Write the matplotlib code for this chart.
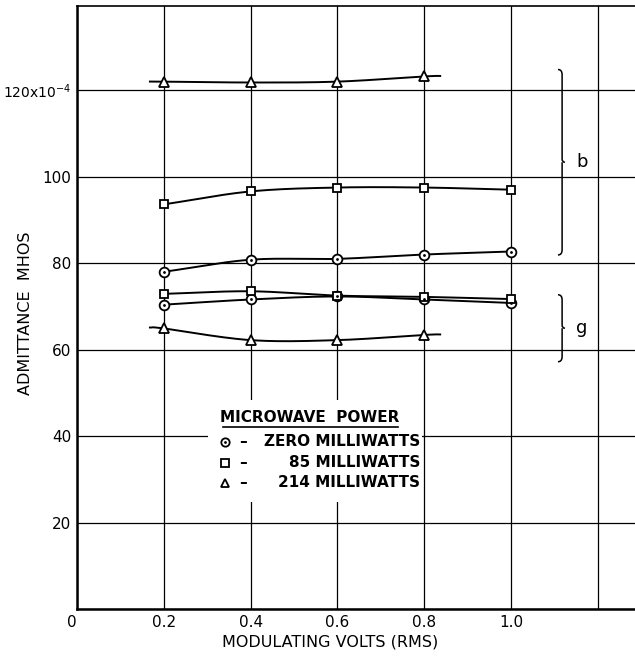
import matplotlib
matplotlib.use('Agg')
import matplotlib.pyplot as plt
import numpy as np
from matplotlib.path import Path
from matplotlib.patches import PathPatch, Rectangle

plt.rcParams['font.family'] = ['DejaVu Sans']

# modulating volts (rms)
volts = [0.2, 0.4, 0.6, 0.8, 1.0]
volts_214 = [0.2, 0.4, 0.6, 0.8]

# susceptance b (x 10^-4 mhos)
b_zero = [78.0, 80.8, 81.0, 82.0, 82.7]
b_85 = [93.6, 96.6, 97.5, 97.5, 97.0]
b_214 = [122.0, 121.8, 122.0, 123.2]

# conductance g (x 10^-4 mhos)
g_zero = [70.4, 71.6, 72.3, 71.6, 70.8]
g_85 = [72.9, 73.5, 72.5, 72.2, 71.7]
g_214 = [64.9, 62.2, 62.2, 63.4]

x_ticks = [0, 0.2, 0.4, 0.6, 0.8, 1.0, 1.2]
x_labels = ['0', '0.2', '0.4', '0.6', '0.8', '1.0', '']
y_ticks = [0, 20, 40, 60, 80, 100, 120]
y_labels = ['', '20', '40', '60', '80', '100', '120x10$^{-4}$']

legend_rows = [('o', 'ZERO MILLIWATTS'), ('s', '85 MILLIWATTS'), ('^', '214 MILLIWATTS')]


def smooth(xs, ys, x_from=None, x_to=None, n=40):
    # catmull-rom through the points, optionally run a little past the ends
    xs = list(xs)
    ys = list(ys)
    if x_from is not None:
        k = (ys[1] - ys[0]) / (xs[1] - xs[0])
        ys.insert(0, ys[0] - k * (xs[0] - x_from) * 0.5)
        xs.insert(0, x_from)
    if x_to is not None:
        k = (ys[-1] - ys[-2]) / (xs[-1] - xs[-2])
        ys.append(ys[-1] + k * (x_to - xs[-1]) * 0.5)
        xs.append(x_to)
    p = np.array([xs, ys]).T
    p = np.vstack([2 * p[0] - p[1], p, 2 * p[-1] - p[-2]])
    out = []
    for i in range(1, len(p) - 2):
        p0, p1, p2, p3 = p[i - 1], p[i], p[i + 1], p[i + 2]
        t = np.linspace(0, 1, n)[:, None]
        seg = 0.5 * (2 * p1 + (-p0 + p2) * t + (2 * p0 - 5 * p1 + 4 * p2 - p3) * t ** 2
                     + (-p0 + 3 * p1 - 3 * p2 + p3) * t ** 3)
        out.append(seg)
    out = np.vstack(out)
    return out[:, 0], out[:, 1]


def brace(ax, x, y_top, y_bot):
    dx = 0.0095
    dy = 1.2
    y_mid = (y_top + y_bot) / 2
    verts = [(x - dx, y_top), (x, y_top), (x, y_top - dy),
             (x, y_mid + dy * 0.6),
             (x, y_mid), (x + dx * 0.7, y_mid),
             (x, y_mid), (x, y_mid - dy * 0.6),
             (x, y_bot + dy), (x, y_bot), (x - dx, y_bot)]
    codes = [Path.MOVETO, Path.CURVE3, Path.CURVE3,
             Path.LINETO,
             Path.CURVE3, Path.CURVE3,
             Path.MOVETO, Path.LINETO,
             Path.LINETO, Path.CURVE3, Path.CURVE3]
    ax.add_patch(PathPatch(Path(verts, codes), fill=False, lw=1.1, color='black', zorder=4))


fig = plt.figure(figsize=(6.35, 6.58), dpi=100)
ax = fig.add_axes([0.1213, 0.0745, 0.8787, 0.9164])
ax.set_xlim(0, 1.286)
ax.set_ylim(0, 139.5)

ax.set_xticks(x_ticks)
ax.set_xticklabels(x_labels)
ax.set_yticks(y_ticks)
ax.set_yticklabels(y_labels)
ax.tick_params(length=0, labelsize=11, pad=4)
ax.get_xticklabels()[0].set_horizontalalignment('right')
ax.get_yticklabels()[-1].set_fontsize(10)
ax.grid(True, color='black', lw=0.9, zorder=0)
ax.set_axisbelow(True)
for side in ['left', 'bottom']:
    ax.spines[side].set_linewidth(1.8)
ax.spines['top'].set_linewidth(1.2)
ax.spines['right'].set_visible(False)

ax.set_xlabel('MODULATING VOLTS (RMS)', fontsize=11.5)
ax.xaxis.set_label_coords(0.453, -0.043)
ax.set_ylabel('ADMITTANCE  MHOS', fontsize=11.5)
ax.yaxis.set_label_coords(-0.079, 0.49)

mk = dict(mfc='white', mec='black', mew=1.3, ls='none', zorder=5)
curves = [
    (volts, b_zero, 'o', None, None),
    (volts, b_85, 's', None, None),
    (volts_214, b_214, '^', 0.168, 0.837),
    (volts, g_zero, 'o', None, None),
    (volts, g_85, 's', None, None),
    (volts_214, g_214, '^', 0.168, 0.837),
]
for xs, ys, m, x0, x1 in curves:
    sx, sy = smooth(xs, ys, x0, x1)
    ax.plot(sx, sy, color='black', lw=1.4, zorder=3)
    ms = 7 if m == 'o' else (6 if m == 's' else 7.5)
    ax.plot(xs, ys, marker=m, ms=ms, **mk)
    if m == 'o':
        ax.plot(xs, ys, marker='.', ms=2, color='black', ls='none', zorder=6)

brace(ax, 1.118, 124.8, 81.9)
brace(ax, 1.118, 72.7, 57.2)
ax.text(1.15, 103.4, 'b', fontsize=13, va='center', ha='left')
ax.text(1.15, 65.0, 'g', fontsize=13, va='center', ha='left')

# key block with its own white ground
ax.add_patch(Rectangle((0.302, 24.8), 0.493, 23.6, facecolor='white', edgecolor='none', zorder=2))
ax.text(0.537, 44.2, 'MICROWAVE  POWER', fontsize=11, fontweight='bold',
        ha='center', va='center', zorder=6)
ax.plot([0.337, 0.74], [42.1, 42.1], color='black', lw=1.2, zorder=6)
row_y = [38.7, 33.8, 29.2]
for (m, label), yy in zip(legend_rows, row_y):
    ax.plot([0.341], [yy], marker=m, ms=6, **mk)
    if m == 'o':
        ax.plot([0.341], [yy], marker='.', ms=2, color='black', zorder=6)
    ax.text(0.383, yy, '\u2013', fontsize=11, fontweight='bold', ha='center', va='center', zorder=6)
    ax.text(0.791, yy, label, fontsize=11, fontweight='bold', ha='right', va='center', zorder=6)

fig.savefig('out.png', dpi=100)
